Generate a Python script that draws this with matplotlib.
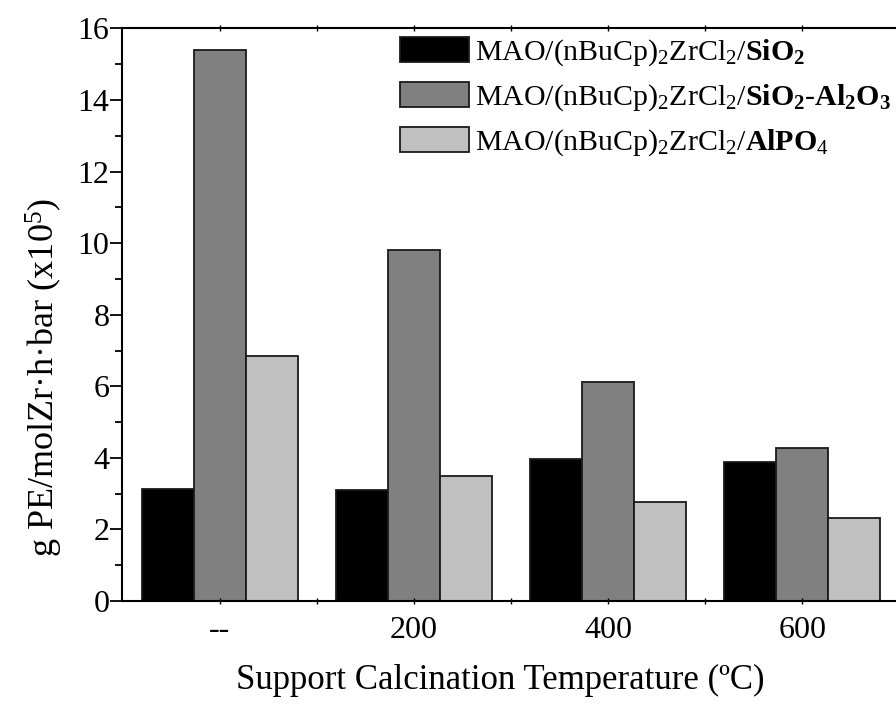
import matplotlib
matplotlib.use("Agg")
import matplotlib.pyplot as plt
import numpy as np
from matplotlib.ticker import MultipleLocator, FixedLocator

plt.rcParams['font.family'] = ['Liberation Serif', 'DejaVu Serif']
plt.rcParams['mathtext.fontset'] = 'custom'
plt.rcParams['mathtext.rm'] = 'Liberation Serif'
plt.rcParams['mathtext.it'] = 'Liberation Serif:italic'
plt.rcParams['mathtext.bf'] = 'Liberation Serif:bold'

temperatures = ["--", "200", "400", "600"]
sio2 = [3.12, 3.11, 3.97, 3.88]
sio2_al2o3 = [15.41, 9.81, 6.12, 4.27]
alpo4 = [6.85, 3.49, 2.76, 2.32]

labels = [
    r"MAO/(nBuCp)$_2$ZrCl$_2$/$\mathbf{SiO_2}$",
    r"MAO/(nBuCp)$_2$ZrCl$_2$/$\mathbf{SiO_2}$-$\mathbf{Al_2O_3}$",
    r"MAO/(nBuCp)$_2$ZrCl$_2$/$\mathbf{AlPO}_4$",
]
colors = ["#000000", "#808080", "#c0c0c0"]

fig = plt.figure(figsize=(8.96, 7.07), dpi=100)
ax = fig.add_axes([0.1367, 0.1499, 0.8672, 0.8098])

x = np.arange(len(temperatures))
w = 0.268
for i, (vals, c, lab) in enumerate(zip([sio2, sio2_al2o3, alpo4], colors, labels)):
    ax.bar(x + (i - 1) * w, vals, width=w, color=c, edgecolor="#1a1a1a",
           linewidth=1.3, label=lab)

ax.set_xlim(-0.5, 3.5)
ax.set_ylim(0, 16)
ax.set_xticks(x)
ax.set_xticklabels(temperatures)
ax.xaxis.set_minor_locator(FixedLocator([0.5, 1.5, 2.5]))
ax.yaxis.set_major_locator(MultipleLocator(2))
ax.yaxis.set_minor_locator(MultipleLocator(1))

for s in ax.spines.values():
    s.set_linewidth(1.5)
ax.spines['right'].set_visible(False)

ax.tick_params(axis='y', which='major', direction='out', length=8.5, width=1.3,
               labelsize=23, pad=1)
ax.tick_params(axis='y', which='minor', direction='out', length=5, width=1.3)
ax.tick_params(axis='x', which='both', direction='inout', length=4, width=1.0,
               labelsize=23, pad=9, top=True)

ax.set_xlabel("Support Calcination Temperature (ºC)", fontsize=25)
ax.xaxis.set_label_coords(0.486, -0.11)
ax.set_ylabel(r"g PE/molZr·h·bar (x10$^5$)", fontsize=26)
ax.yaxis.set_label_coords(-0.074, 0.39)

ax.legend(loc="upper left", bbox_to_anchor=(0.357, 0.985), frameon=False,
          fontsize=21.5, borderpad=0, borderaxespad=0, handlelength=2.3,
          handleheight=0.9, handletextpad=0.2, labelspacing=0.47)

fig.savefig("out.png", dpi=100)
